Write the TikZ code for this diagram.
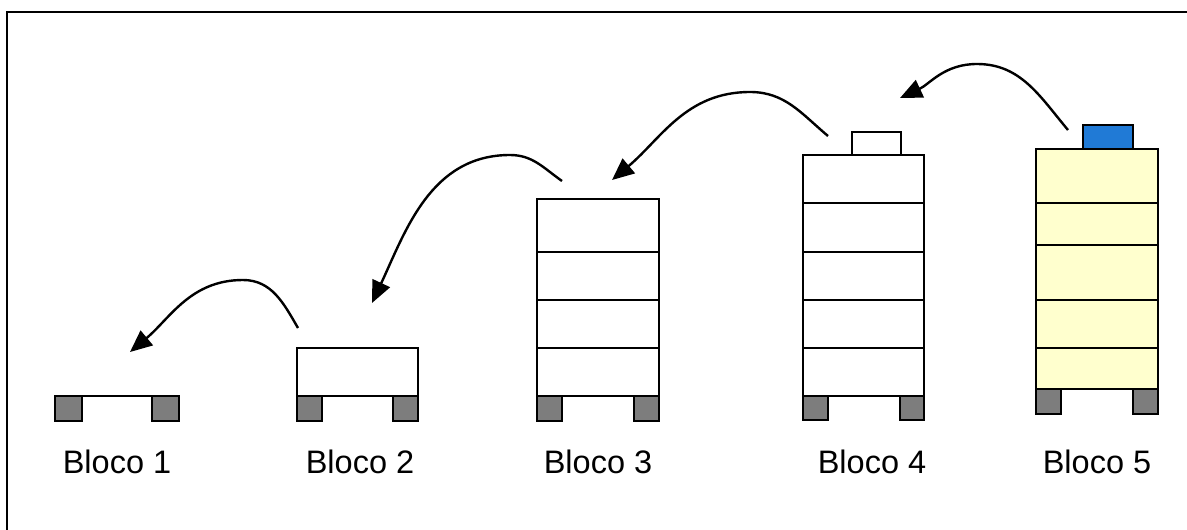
\documentclass[tikz,border=0pt]{standalone}
\usepackage{fontspec}
\setmainfont{Liberation Sans}
\usetikzlibrary{arrows.meta}
\definecolor{footgray}{RGB}{125,125,125}
\definecolor{paleyellow}{RGB}{255,255,206}
\definecolor{capblue}{RGB}{32,122,214}
\tikzset{
  outline/.style={draw=black, line width=2.6pt},
  foot/.style={outline, fill=footgray},
  shelf/.style={draw=black, line width=2.3pt},
  lbl/.style={font=\fontsize{32.5}{38}\selectfont, inner sep=0pt},
  flow/.style={draw=black, line width=2.4pt, -{Triangle[length=22pt,width=19pt]}},
}
\begin{document}
\begin{tikzpicture}[x=1pt,y=-1pt]
\useasboundingbox (0,0) rectangle (1187,530);
% outer frame
\draw[line width=2.6pt] (7,545) -- (7,12) -- (1200,12);

% Bloco 1: empty pallet
\draw[shelf] (55,396) -- (179,396);
\draw[foot] (55,396) rectangle (82,421);
\draw[foot] (152,396) rectangle (179,421);
\node[lbl] (l1) at (117,462) {Bloco 1};

% Bloco 2: one layer
\draw[outline, fill=white] (297,348) rectangle (418,396);
\draw[foot] (297,396) rectangle (322,421);
\draw[foot] (393,396) rectangle (418,421);
\node[lbl] (l2) at (360,462) {Bloco 2};

% Bloco 3: four layers
\draw[outline, fill=white] (537,199) rectangle (659,396);
\foreach \yy in {252,300,348} \draw[shelf] (537,\yy) -- (659,\yy);
\draw[foot] (537,396) rectangle (562,421);
\draw[foot] (634,396) rectangle (659,421);
\node[lbl] (l3) at (598,462) {Bloco 3};

% Bloco 4: five layers plus cap
\draw[outline, fill=white] (852,132) rectangle (901,155);
\draw[outline, fill=white] (803,155) rectangle (924,396);
\foreach \yy in {203,252,300,348} \draw[shelf] (803,\yy) -- (924,\yy);
\draw[foot] (803,396) rectangle (828,420);
\draw[foot] (900,396) rectangle (924,420);
\node[lbl] (l4) at (872,462) {Bloco 4};

% Bloco 5: filled stack with blue cap
\draw[outline, fill=capblue] (1083,125) rectangle (1133,149);
\draw[outline, fill=paleyellow] (1036,149) rectangle (1158,389);
\foreach \yy in {203,245,300,348} \draw[shelf] (1036,\yy) -- (1158,\yy);
\draw[foot] (1036,389) rectangle (1061,414);
\draw[foot] (1133,389) rectangle (1158,414);
\node[lbl] (l5) at (1097,462) {Bloco 5};

% transfer arrows
\coordinate (s5) at (1068,130); \coordinate (p5) at (977,64);  \coordinate (t5) at (900,98);
\coordinate (s4) at (828,136);  \coordinate (p4) at (750,92);  \coordinate (t4) at (612,180);
\coordinate (s3) at (562,181);  \coordinate (p3) at (510,155); \coordinate (t3) at (372,303);
\coordinate (s2) at (298,328);  \coordinate (p2) at (243,280); \coordinate (t2) at (130,352);

\draw[flow] (s5) to[out=130,in=0] (p5) to[out=180,in=25] (t5);
\draw[flow] (s4) to[out=140,in=0] (p4) to[out=180,in=40] (t4);
\draw[flow] (s3) to[out=145,in=0] (p3) to[out=180,in=65] (t3);
\draw[flow] (s2) to[out=120,in=0] (p2) to[out=180,in=40] (t2);
\end{tikzpicture}
\end{document}
